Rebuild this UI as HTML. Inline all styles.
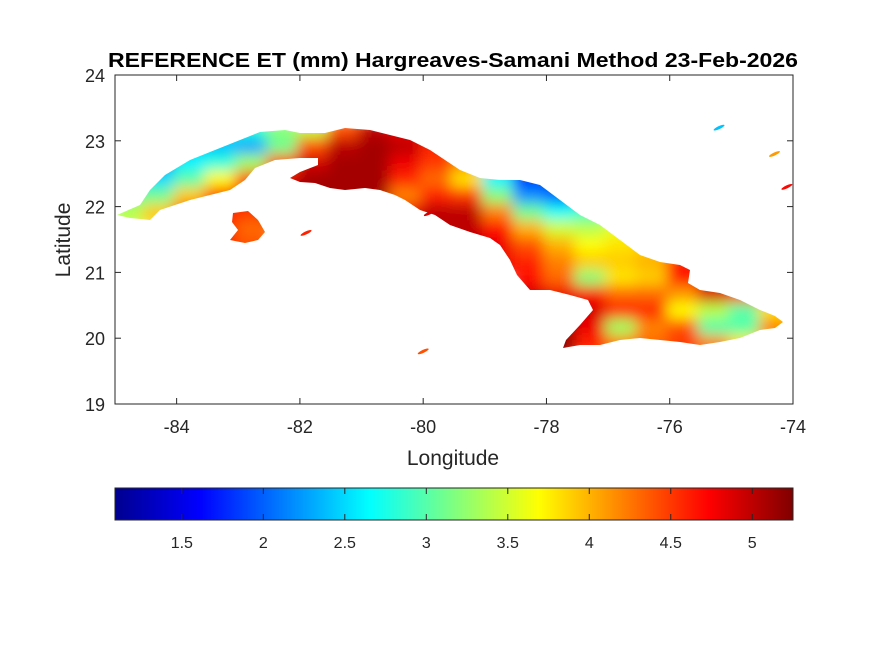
<!DOCTYPE html>
<html><head><meta charset="utf-8">
<style>
body{margin:0;background:#fff;}
svg{display:block;font-family:"Liberation Sans",Arial,sans-serif;}
</style></head>
<body>
<svg id="chart" width="875" height="656" viewBox="0 0 875 656">
<defs>
<clipPath id="cubaClip"><path id="coast" d=""/></clipPath>
<filter id="soft" filterUnits="userSpaceOnUse" x="0" y="0" width="875" height="656"><feGaussianBlur stdDeviation="7"/></filter>
<linearGradient id="jetGrad" x1="0" x2="1" y1="0" y2="0">
<stop offset="0" stop-color="#00008f"/><stop offset="0.125" stop-color="#0000ff"/>
<stop offset="0.375" stop-color="#00ffff"/><stop offset="0.625" stop-color="#ffff00"/>
<stop offset="0.875" stop-color="#ff0000"/><stop offset="1" stop-color="#800000"/>
</linearGradient>
</defs>
<rect x="0" y="0" width="875" height="656" fill="#fff"/>
<text x="453" y="67" text-anchor="middle" font-size="20" font-weight="bold" fill="#000" textLength="690" lengthAdjust="spacingAndGlyphs">REFERENCE ET (mm) Hargreaves-Samani Method  23-Feb-2026</text>
<g id="mapLayer"></g>
<g id="axes"></g>
<text x="453" y="465" text-anchor="middle" font-size="21" fill="#262626">Longitude</text>
<text x="0" y="0" transform="translate(70,240) rotate(-90)" text-anchor="middle" font-size="21" fill="#262626">Latitude</text>
<rect x="115" y="488" width="678" height="32" fill="url(#jetGrad)" stroke="#262626" stroke-width="1"/>
<g id="cbTicks"></g>
</svg>
<script>
// Axis extents
const lonTicks = [-84, -82, -80, -78, -76, -74];
const latTicks = [19, 20, 21, 22, 23, 24];
const cbTicks = [1.5, 2, 2.5, 3, 3.5, 4, 4.5, 5];
// grid: lon bins of 0.5 deg starting at -85, lat rows of 0.25 deg starting at 23.25 (top)
const gridLon0 = -85, gridDLon = 0.5, gridLat0 = 23.25, gridDLat = 0.25;
const etRow0  = [null,null,2.6,2.6,2.8,3.2,3.4,4.4,5.0,4.8,4.6,null,null,null,null,null,null,null,null,null,null,null];
const etRow1  = [null,2.4,2.5,2.4,2.3,3.1,4.4,5.0,5.1,5.0,4.6,4.3,null,null,null,null,null,null,null,null,null,null];
const etRow2  = [2.8,2.2,2.6,2.8,3.3,4.4,4.9,5.1,5.1,4.8,4.5,4.2,3.0,1.7,1.8,null,null,null,null,null,null,null];
const etRow3  = [3.0,2.5,3.0,3.7,4.4,4.8,5.1,5.1,5.1,4.6,4.3,3.8,2.6,1.8,2.0,2.3,null,null,null,null,null,null];
const etRow4  = [3.0,3.1,3.9,4.5,4.8,5.1,5.1,5.1,5.1,4.2,4.6,4.5,3.2,2.2,2.0,2.5,2.9,null,null,null,null,null];
const etRow5  = [3.4,3.9,4.5,4.6,4.5,5.1,5.1,5.1,5.1,4.8,5.0,5.0,4.2,3.1,2.7,2.9,3.3,3.5,null,null,null,null];
const etRow6  = [null,null,4.5,4.6,4.3,null,null,null,5.1,4.9,5.0,5.0,4.7,4.0,3.5,3.4,3.6,3.7,null,null,null,null];
const etRow7  = [null,null,null,4.6,4.4,null,null,null,null,null,5.0,5.0,4.8,4.4,4.0,3.7,3.8,3.9,4.2,null,null,null];
const etRow8  = [null,null,null,null,null,null,null,null,null,null,null,null,4.8,4.6,4.2,3.9,3.9,4.0,4.6,4.7,null,null];
const etRow9  = [null,null,null,null,null,null,null,null,null,null,null,null,null,4.7,4.3,3.2,3.8,3.9,4.7,4.8,4.5,null];
const etRow10 = [null,null,null,null,null,null,null,null,null,null,null,null,null,4.9,4.8,4.7,4.3,4.3,4.1,4.9,4.6,4.3];
const etRow11 = [null,null,null,null,null,null,null,null,null,null,null,null,null,null,5.0,4.9,4.6,4.6,3.7,3.4,3.0,3.8];
const etRow12 = [null,null,null,null,null,null,null,null,null,null,null,null,null,null,5.2,4.8,3.3,4.2,4.4,3.0,3.0,4.2];
const etRow13 = [null,null,null,null,null,null,null,null,null,null,null,null,null,null,5.2,4.6,4.2,4.3,4.5,4.2,3.8,4.0];
const etRows = [etRow0,etRow1,etRow2,etRow3,etRow4,etRow5,etRow6,etRow7,etRow8,etRow9,etRow10,etRow11,etRow12,etRow13];
// small keys/islets: lon, lat, value
const isletLon = [-75.2, -74.3, -74.1, -80.0, -81.9, -79.9];
const isletLat = [23.2, 22.8, 22.3, 19.8, 21.6, 21.9];
const isletVal = [2.4, 4.1, 4.7, 4.4, 4.6, 4.9];

const X0 = 115, X1 = 793, Y0 = 75, Y1 = 404;
const LON0 = -85, LON1 = -74, LAT0 = 19, LAT1 = 24;
const CMIN = 1.09, CMAX = 5.25;
function xs(lon){ return X0 + (lon - LON0) / (LON1 - LON0) * (X1 - X0); }
function ys(lat){ return Y1 - (lat - LAT0) / (LAT1 - LAT0) * (Y1 - Y0); }
function cbx(v){ return X0 + (v - CMIN) / (CMAX - CMIN) * (X1 - X0); }
function jet(v){
  let t = (v - CMIN) / (CMAX - CMIN); t = Math.max(0, Math.min(1, t));
  const f = (c) => Math.max(0, Math.min(1, 1.5 - Math.abs(4 * t - c)));
  const r = Math.round(255 * f(3)), g = Math.round(255 * f(2)), b = Math.round(255 * f(1));
  return `rgb(${r},${g},${b})`;
}
const NS = "http://www.w3.org/2000/svg";
function mk(tag, attrs, parent){ const e = document.createElementNS(NS, tag); for (const k in attrs) e.setAttribute(k, attrs[k]); parent.appendChild(e); return e; }

// coastline geometry (main island + Isla de la Juventud), in pixel space
const coastD = "M117,215 L140,205 L150,190 L165,175 L190,160 L215,150 L240,140 L260,132 L285,130 L300,133 L325,133 L345,128 L370,130 L390,135 L410,140 L430,150 L445,160 L460,170 L480,178 L500,180 L520,180 L540,185 L560,200 L580,215 L600,225 L620,240 L640,255 L660,262 L680,265 L690,270 L688,283 L700,290 L720,293 L740,300 L760,310 L775,316 L783,322 L775,328 L760,330 L740,338 L720,342 L700,345 L680,342 L660,340 L640,338 L620,340 L600,345 L580,345 L563,348 L566,340 L580,325 L593,310 L588,300 L570,295 L550,290 L530,290 L517,275 L510,260 L500,245 L490,238 L470,232 L450,225 L435,215 L420,210 L405,200 L395,195 L380,190 L365,188 L345,190 L330,188 L315,183 L300,182 L290,178 L300,172 L318,165 L318,158 L300,158 L275,160 L255,168 L245,180 L230,190 L210,195 L190,200 L175,205 L160,210 L150,220 L130,218 Z M233,213 L248,211 L258,220 L265,232 L258,240 L245,243 L230,240 L238,230 L232,222 Z";
document.getElementById('coast').setAttribute('d', coastD);

const map = document.getElementById('mapLayer');
const clipG = mk('g', {'clip-path':'url(#cubaClip)'}, map);


const blurG = mk('g', {filter:'url(#soft)'}, clipG);
etRows.forEach((row, j) => {
  row.forEach((v, i) => {
    if (v === null) return;
    const lonA = gridLon0 + i * gridDLon, lonB = lonA + gridDLon;
    const latA = gridLat0 - j * gridDLat, latB = latA - gridDLat;
    const x = xs(lonA) - 3, y = ys(latA) - 3;
    const r = mk('rect', {x:x, y:y, width:xs(lonB)-xs(lonA)+6, height:ys(latB)-ys(latA)+6, fill:jet(v)}, blurG);
    
    
  });
});
isletLon.forEach((lon, k) => {
  const e = mk('ellipse', {cx:xs(lon), cy:ys(isletLat[k]), rx:6, ry:1.5, fill:jet(isletVal[k]), transform:`rotate(-25 ${xs(lon)} ${ys(isletLat[k])})`}, map);
  
  
});

const ax = document.getElementById('axes');
const box = mk('rect', {x:X0, y:Y0, width:X1-X0, height:Y1-Y0, fill:'none', stroke:'#262626', 'stroke-width':1}, ax);


lonTicks.forEach(t => {
  const x = xs(t);
  mk('line', {x1:x, x2:x, y1:Y1, y2:Y1-6, stroke:'#262626'}, ax);
  mk('line', {x1:x, x2:x, y1:Y0, y2:Y0+6, stroke:'#262626'}, ax);
  const tx = mk('text', {x:x, y:Y1+29, 'text-anchor':'middle', 'font-size':18, fill:'#262626'}, ax);
  tx.textContent = t;
  
  
});
latTicks.forEach(t => {
  const y = ys(t);
  mk('line', {x1:X0, x2:X0+6, y1:y, y2:y, stroke:'#262626'}, ax);
  mk('line', {x1:X1, x2:X1-6, y1:y, y2:y, stroke:'#262626'}, ax);
  const tx = mk('text', {x:X0-10, y:y+7, 'text-anchor':'end', 'font-size':18, fill:'#262626'}, ax);
  tx.textContent = t;
  
  
});
const cbt = document.getElementById('cbTicks');
cbTicks.forEach(t => {
  const x = cbx(t);
  mk('line', {x1:x, x2:x, y1:520, y2:514, stroke:'#262626'}, cbt);
  mk('line', {x1:x, x2:x, y1:488, y2:494, stroke:'#262626'}, cbt);
  const tx = mk('text', {x:x, y:548, 'text-anchor':'middle', 'font-size':16, fill:'#262626'}, cbt);
  tx.textContent = t;
  
  
});
</script>
</body></html>
